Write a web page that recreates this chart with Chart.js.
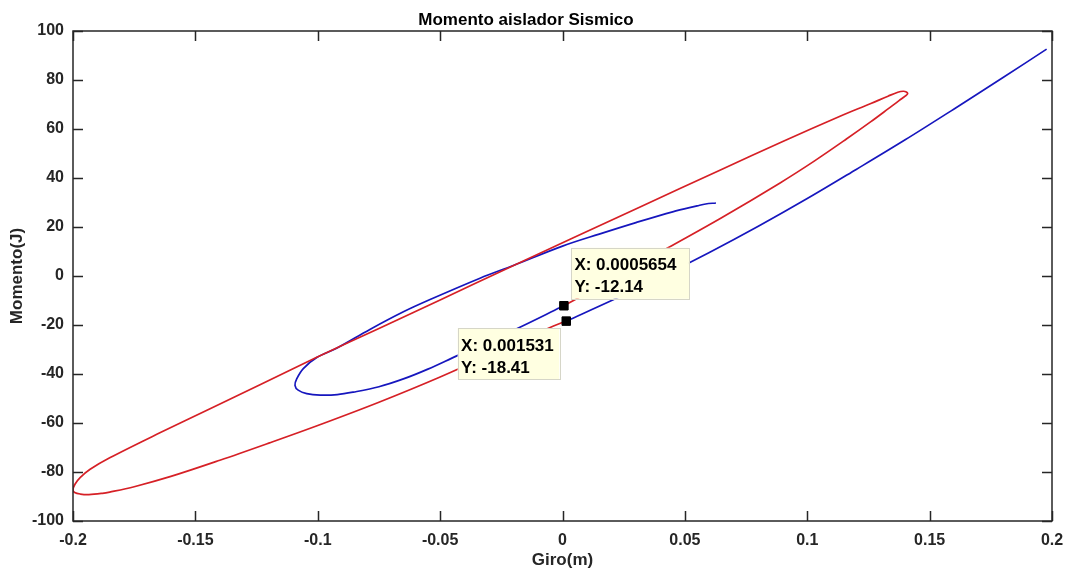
<!DOCTYPE html>
<html>
<head>
<meta charset="utf-8">
<title>Momento aislador Sismico</title>
<script src="https://cdn.jsdelivr.net/npm/chart.js@4.4.1/dist/chart.umd.min.js"></script>
<style>
  html, body { margin: 0; padding: 0; background: #fff; }
  #wrap { width: 1067px; height: 572px; }
</style>
</head>
<body>
<div id="wrap"><canvas id="chart" width="1067" height="572"></canvas></div>
<script>
// curva roja (lazo grande), empieza en el primer data tip
const redGiro = [0.0005654, 0.0215, 0.0427, 0.0650, 0.0889, 0.1030, 0.1160, 0.1260, 0.1330, 0.1375, 0.1400, 0.1410,
  0.1405, 0.1392, 0.1370, 0.1330, 0.1260, 0.1134, 0.0900, 0.0643, 0.0317, -0.0215, -0.0500, -0.0750, -0.1004,
  -0.1236, -0.1440, -0.1645, -0.1850, -0.1930, -0.1971, -0.1992, -0.2000, -0.1993, -0.1970, -0.1935, -0.1880,
  -0.1850, -0.1750, -0.1600, -0.1400, -0.1200, -0.1000, -0.0750, -0.0500, -0.0250, -0.0039, 0.001531];
const redMomento = [-12.14, -0.6, 11.3, 23.8, 38.0, 47.0, 55.9, 63.0, 68.2, 71.6, 73.4, 74.4,
  75.1, 75.4, 75.0, 73.4, 70.4, 65.2, 54.9, 43.2, 28.2, 3.6, -9.8, -21.4, -33.2,
  -44.4, -54.2, -64.0, -74.2, -78.9, -82.3, -85.0, -87.3, -88.4, -89.0, -89.2, -88.7,
  -88.2, -86.0, -81.8, -75.2, -68.2, -61.0, -51.5, -41.2, -30.0, -20.5, -18.41];

// curva azul: lazo pequeño hasta el data tip superior
const blueLoopGiro = [0.0627, 0.0585, 0.0550, 0.0450, 0.0300, 0.0150, 0.0000, -0.0201, -0.0337, -0.0541, -0.0650,
  -0.0787, -0.0923, -0.1004, -0.1059, -0.1086, -0.1093, -0.1080, -0.1045, -0.0990, -0.0920, -0.0855, -0.0750,
  -0.0650, -0.0550, -0.0432, -0.0300, -0.0174, -0.0010, 0.0005654];
const blueLoopMomento = [29.8, 29.4, 28.6, 26.2, 21.8, 17.1, 12.2, 4.3, -0.9, -9.6, -14.6,
  -21.8, -29.5, -33.3, -37.8, -42.0, -44.6, -46.6, -48.0, -48.6, -48.4, -47.4, -45.2,
  -42.0, -38.0, -32.6, -26.7, -20.9, -12.9, -12.14];

// curva azul: rama de subida desde el data tip inferior
const blueRiseGiro = [0.001531, 0.0205, 0.0400, 0.0600, 0.0800, 0.1000, 0.1200, 0.1400, 0.1600, 0.1800, 0.1978];
const blueRiseMomento = [-18.41, -9.8, -0.5, 9.6, 20.3, 31.6, 43.5, 55.6, 68.2, 81.0, 92.6];

// data tips
const tipGiro = [0.0005654, 0.001531];
const tipMomento = [-12.14, -18.41];

const xTickValues = [-0.2, -0.15, -0.1, -0.05, 0, 0.05, 0.1, 0.15, 0.2];
const yTickValues = [-100, -80, -60, -40, -20, 0, 20, 40, 60, 80, 100];

const FONT = '"Liberation Sans", Arial, Helvetica, sans-serif';
const AXIS_COLOR = '#262626';

const toPoints = (xs, ys) => xs.map((v, i) => ({ x: v, y: ys[i] }));

// caja tipo MATLAB con ticks hacia adentro
const axesBox = {
  id: 'axesBox',
  afterDatasetsDraw(chart) {
    const { ctx, chartArea: a, scales: { x, y } } = chart;
    ctx.save();
    ctx.strokeStyle = AXIS_COLOR;
    ctx.lineWidth = 1.5;
    ctx.beginPath();
    xTickValues.forEach(v => {
      const px = Math.round(x.getPixelForValue(v)) + 0.5;
      ctx.moveTo(px, a.bottom); ctx.lineTo(px, a.bottom - 10);
      ctx.moveTo(px, a.top); ctx.lineTo(px, a.top + 10);
    });
    yTickValues.forEach(v => {
      const py = Math.round(y.getPixelForValue(v)) + 0.5;
      ctx.moveTo(a.left, py); ctx.lineTo(a.left + 10, py);
      ctx.moveTo(a.right, py); ctx.lineTo(a.right - 10, py);
    });
    ctx.stroke();
    ctx.strokeRect(a.left, a.top, a.right - a.left, a.bottom - a.top);
    ctx.restore();
  }
};

// cuadros de los data tips
const tipBoxes = {
  id: 'tipBoxes',
  afterDraw(chart) {
    const { ctx, scales: { x, y } } = chart;
    ctx.save();
    ctx.font = 'bold 17px ' + FONT;
    tipGiro.forEach((g, i) => {
      const px = x.getPixelForValue(g);
      const py = y.getPixelForValue(tipMomento[i]);
      const lines = ['X: ' + g.toPrecision(4), 'Y: ' + tipMomento[i].toPrecision(4)];
      const w = Math.max(...lines.map(t => ctx.measureText(t).width)) + (i === 0 ? 16 : 9);
      const h = 51;
      let bx, by;
      if (i === 0) { bx = px + 7; by = py - 7 - h; }
      else { bx = px - 7 - w; by = py + 7; }
      ctx.fillStyle = '#ffffe1';
      ctx.fillRect(bx, by, w, h);
      ctx.strokeStyle = '#d6d6c8';
      ctx.lineWidth = 1;
      ctx.strokeRect(Math.round(bx) + 0.5, Math.round(by) + 0.5, Math.round(w), Math.round(h));
      ctx.fillStyle = '#000';
      ctx.textBaseline = 'alphabetic';
      ctx.fillText(lines[0], bx + 3.5, by + 22.5);
      ctx.fillText(lines[1], bx + 3.5, by + 44.5);
    });
    ctx.restore();
  }
};

const lineStyle = (color) => ({
  showLine: true,
  borderColor: color,
  borderWidth: 1.7,
  pointRadius: 0,
  tension: 0.35,
  fill: false
});

new Chart(document.getElementById('chart'), {
  type: 'scatter',
  data: {
    datasets: [
      {
        label: 'tips',
        data: toPoints(tipGiro, tipMomento),
        pointStyle: 'rect',
        pointRadius: 6,
        pointBackgroundColor: '#000',
        pointBorderColor: '#000',
        pointBorderWidth: 1,
        showLine: false
      },
      Object.assign({ label: 'rojo', data: toPoints(redGiro, redMomento) }, lineStyle('rgb(214,32,38)')),
      Object.assign({ label: 'azul lazo', data: toPoints(blueLoopGiro, blueLoopMomento) }, lineStyle('rgb(22,22,190)')),
      Object.assign({ label: 'azul subida', data: toPoints(blueRiseGiro, blueRiseMomento) }, lineStyle('rgb(22,22,190)'))
    ]
  },
  options: {
    responsive: false,
    animation: false,
    devicePixelRatio: 1,
    events: [],
    layout: { padding: { left: 0, right: 15, top: 0, bottom: 0 } },
    plugins: {
      legend: { display: false },
      tooltip: { enabled: false },
      title: {
        display: true,
        text: 'Momento aislador Sismico',
        color: '#000',
        font: { family: FONT, size: 17, weight: 'bold' },
        padding: { top: 10, bottom: 0.6 }
      }
    },
    scales: {
      x: {
        type: 'linear',
        min: -0.2,
        max: 0.2,
        afterBuildTicks: s => { s.ticks = xTickValues.map(v => ({ value: v })); },
        afterFit: s => { s.height = 51; s.paddingLeft = 0; s.paddingRight = 0; },
        grid: { display: false, drawTicks: false },
        border: { display: false },
        ticks: {
          padding: 10,
          color: AXIS_COLOR,
          font: { family: FONT, size: 16, weight: 'bold' },
          maxRotation: 0,
          callback: v => String(+Number(v).toFixed(2))
        },
        title: {
          display: true,
          text: 'Giro(m)',
          color: AXIS_COLOR,
          font: { family: FONT, size: 17, weight: 'bold' },
          padding: { top: 0, bottom: 1 }
        }
      },
      y: {
        type: 'linear',
        min: -100,
        max: 100,
        afterBuildTicks: s => { s.ticks = yTickValues.map(v => ({ value: v })); },
        afterFit: s => { s.width = 73; s.paddingTop = 0; s.paddingBottom = 0; },
        grid: { display: false, drawTicks: false },
        border: { display: false },
        ticks: {
          padding: 9,
          color: AXIS_COLOR,
          font: { family: FONT, size: 16, weight: 'bold' },
          callback: v => String(v)
        },
        title: {
          display: true,
          text: 'Momento(J)',
          color: AXIS_COLOR,
          font: { family: FONT, size: 17, weight: 'bold' },
          padding: { top: 7, bottom: 0 }
        }
      }
    }
  },
  plugins: [axesBox, tipBoxes]
});
</script>
</body>
</html>
